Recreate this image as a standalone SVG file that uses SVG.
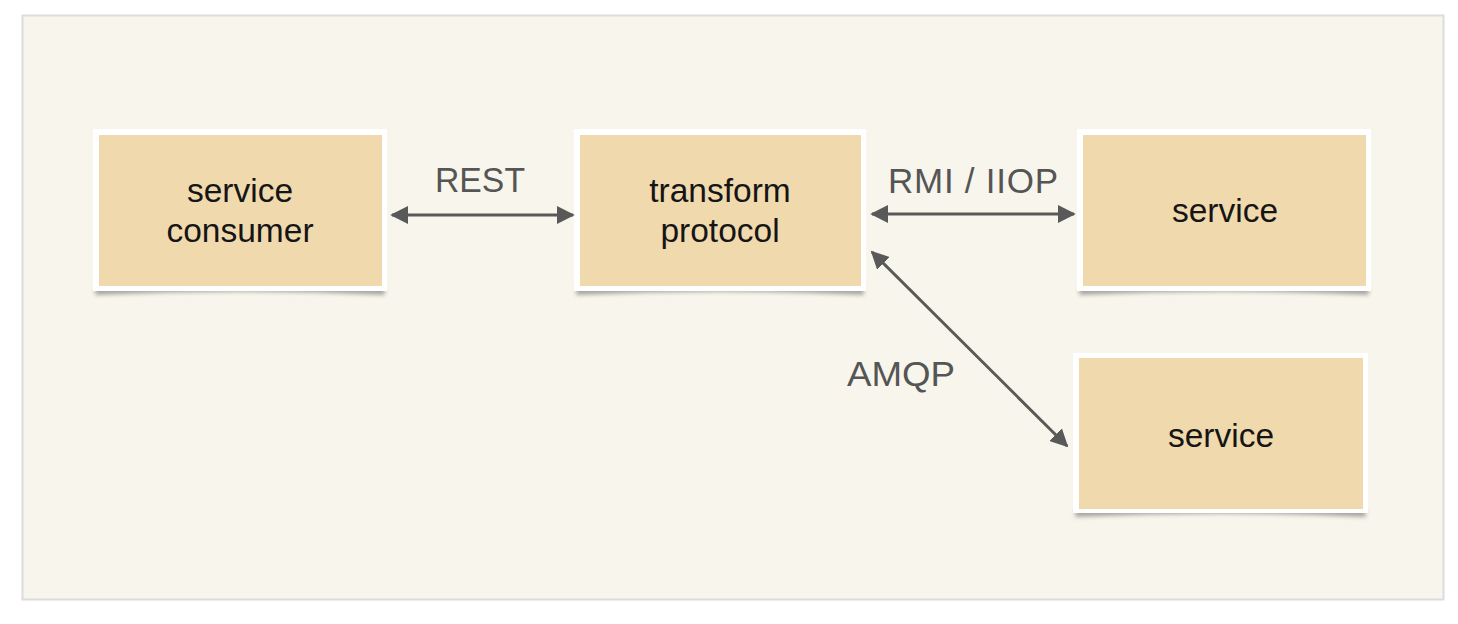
<svg xmlns="http://www.w3.org/2000/svg" width="1458" height="624" viewBox="0 0 1458 624">
<style>
.frame{fill:#ffffff;}
.inner{fill:#f0d9ad;}
.ntext{font-family:"Liberation Sans",Arial,sans-serif;font-size:33.5px;fill:#151515;text-anchor:middle;}
.ltext{font-family:"Liberation Sans",Arial,sans-serif;font-size:35px;fill:#555555;text-anchor:middle;}
.conn{stroke:#595959;stroke-width:3;fill:none;marker-start:url(#ah);marker-end:url(#ah);}
.shadow{fill:#6e6e6e;opacity:0.6;filter:url(#blur);}
</style>
<defs>
<marker id="ah" viewBox="0 0 10 10" refX="9" refY="5" markerWidth="6" markerHeight="6" orient="auto-start-reverse" markerUnits="strokeWidth">
<path d="M0,0 L10,5 L0,10 z" fill="#595959"/>
</marker>
<filter id="blur" x="-10%" y="-50%" width="120%" height="200%">
<feGaussianBlur stdDeviation="2"/>
</filter>
</defs>
<rect x="0" y="0" width="1458" height="624" fill="#ffffff"/>
<rect x="22.5" y="15.5" width="1421" height="584" fill="#f8f6ec" stroke="#dcdcdc" stroke-width="2"/>

<g id="node-consumer">
<path class="shadow" d="M96,286 L384,286 L385,295 Q240,288 95,295 Z"/>
<rect class="frame" x="93" y="129" width="294" height="162"/>
<rect class="inner" x="99" y="135" width="283" height="151"/>
<text class="ntext" x="240" y="202">service</text>
<text class="ntext" x="240" y="242">consumer</text>
</g>

<g id="node-transform">
<path class="shadow" d="M577,286 L863,286 L864,295 Q720,288 576,295 Z"/>
<rect class="frame" x="574" y="129" width="292" height="162"/>
<rect class="inner" x="580" y="135" width="281" height="151"/>
<text class="ntext" x="720" y="202">transform</text>
<text class="ntext" x="720" y="242">protocol</text>
</g>

<g id="node-service1">
<path class="shadow" d="M1080,286 L1368,286 L1369,295 Q1224,288 1079,295 Z"/>
<rect class="frame" x="1077" y="129" width="294" height="162"/>
<rect class="inner" x="1083" y="135" width="283" height="151"/>
<text class="ntext" x="1225" y="222">service</text>
</g>

<g id="node-service2">
<path class="shadow" d="M1076,508 L1365,508 L1366,517 Q1221,510 1075,517 Z"/>
<rect class="frame" x="1073" y="353" width="295" height="160"/>
<rect class="inner" x="1079" y="358" width="284" height="151"/>
<text class="ntext" x="1221" y="447">service</text>
</g>

<g id="connectors">
<line class="conn" x1="392" y1="215" x2="573" y2="215"/>
<line class="conn" x1="872" y1="214" x2="1074" y2="214"/>
<line class="conn" x1="872" y1="252" x2="1067" y2="446"/>
<text class="ltext" x="480" y="192" textLength="90" lengthAdjust="spacingAndGlyphs">REST</text>
<text class="ltext" x="973" y="193" textLength="170" lengthAdjust="spacing">RMI / IIOP</text>
<text class="ltext" x="901" y="386" textLength="108" lengthAdjust="spacingAndGlyphs">AMQP</text>
</g>
</svg>
